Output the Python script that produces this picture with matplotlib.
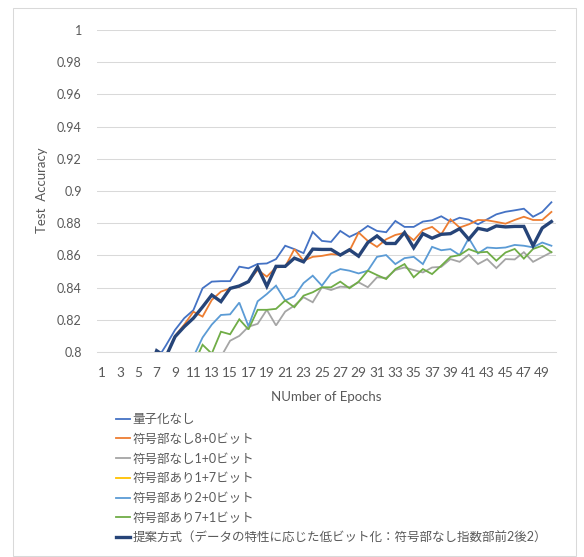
import matplotlib
matplotlib.use("Agg")
import matplotlib.pyplot as plt
from matplotlib.patches import Rectangle
import numpy as np

plt.rcParams["font.family"] = ["Lato", "Noto Sans CJK JP"]

epochs = np.arange(1, 51)

no_quant = [0.42, 0.61, 0.69, 0.73, 0.76, 0.78, 0.795, 0.804, 0.8137, 0.821,
            0.826, 0.8396, 0.8437, 0.844, 0.844, 0.853, 0.852, 0.8547, 0.855, 0.8577,
            0.866, 0.8639, 0.8614, 0.8746, 0.869, 0.8684, 0.8752, 0.8715, 0.8742, 0.8783,
            0.8752, 0.8744, 0.8814, 0.8777, 0.8777, 0.881, 0.8818, 0.8843, 0.881, 0.8834,
            0.8822, 0.8793, 0.8824, 0.8855, 0.8871, 0.888, 0.889, 0.884, 0.887, 0.893]
unsigned_8_0 = [0.40, 0.58, 0.67, 0.72, 0.75, 0.77, 0.785, 0.797, 0.81, 0.817,
                0.825, 0.822, 0.8323, 0.8375, 0.8395, 0.8405, 0.8437, 0.851, 0.8468, 0.8525,
                0.853, 0.8639, 0.8567, 0.8591, 0.8597, 0.8608, 0.8604, 0.8628, 0.8742, 0.869,
                0.8653, 0.87, 0.8727, 0.874, 0.8694, 0.8758, 0.8777, 0.8731, 0.8824, 0.8773,
                0.8793, 0.882, 0.8818, 0.8808, 0.8797, 0.882, 0.884, 0.882, 0.882, 0.887]
unsigned_1_0 = [0.30, 0.45, 0.55, 0.62, 0.67, 0.70, 0.73, 0.75, 0.765, 0.775,
                0.783, 0.789, 0.794, 0.797, 0.807, 0.81, 0.8157, 0.8175, 0.8262, 0.8165,
                0.8251, 0.8288, 0.834, 0.8309, 0.8402, 0.8385, 0.8406, 0.8402, 0.8433, 0.8402,
                0.8464, 0.846, 0.8509, 0.8525, 0.8509, 0.8494, 0.8525, 0.8529, 0.8577, 0.856,
                0.8604, 0.8546, 0.8577, 0.8521, 0.8577, 0.8575, 0.862, 0.856, 0.859, 0.862]
signed_1_7 = [0.101, 0.098, 0.103, 0.099, 0.102, 0.100, 0.097, 0.104, 0.101, 0.099,
              0.102, 0.098, 0.100, 0.103, 0.099, 0.101, 0.097, 0.102, 0.100, 0.098,
              0.103, 0.101, 0.099, 0.100, 0.102, 0.098, 0.101, 0.103, 0.099, 0.100,
              0.102, 0.097, 0.101, 0.100, 0.098, 0.103, 0.099, 0.101, 0.100, 0.102,
              0.098, 0.101, 0.099, 0.103, 0.100, 0.102, 0.098, 0.101, 0.099, 0.100]
signed_2_0 = [0.25, 0.42, 0.55, 0.62, 0.67, 0.71, 0.74, 0.76, 0.775, 0.787,
              0.797, 0.809, 0.817, 0.823, 0.8234, 0.8307, 0.816, 0.8315, 0.836, 0.8412,
              0.832, 0.8346, 0.8428, 0.8474, 0.8412, 0.8488, 0.8515, 0.8505, 0.8488, 0.8505,
              0.8591, 0.8602, 0.8546, 0.8583, 0.8591, 0.8546, 0.8653, 0.8632, 0.8639, 0.8602,
              0.8707, 0.8612, 0.8649, 0.8645, 0.8649, 0.8665, 0.866, 0.865, 0.868, 0.866]
signed_7_1 = [0.20, 0.38, 0.50, 0.59, 0.65, 0.69, 0.72, 0.745, 0.765, 0.78,
              0.792, 0.8045, 0.799, 0.8126, 0.811, 0.8203, 0.814, 0.8262, 0.8262, 0.8268,
              0.832, 0.8278, 0.835, 0.8371, 0.8402, 0.8402, 0.8437, 0.8396, 0.8437, 0.8505,
              0.8478, 0.8453, 0.8515, 0.8546, 0.8464, 0.8515, 0.8484, 0.8536, 0.8591, 0.8602,
              0.8639, 0.8618, 0.8622, 0.8567, 0.8618, 0.864, 0.858, 0.864, 0.866, 0.862]
proposed = [0.35, 0.55, 0.66, 0.72, 0.76, 0.785, 0.8008, 0.797, 0.8095, 0.8157,
            0.821, 0.828, 0.8354, 0.8313, 0.8395, 0.841, 0.8437, 0.8528, 0.8408, 0.8532,
            0.8532, 0.8583, 0.856, 0.8639, 0.8637, 0.8637, 0.8602, 0.8635, 0.8595, 0.868,
            0.8721, 0.8674, 0.8674, 0.8742, 0.8647, 0.8735, 0.8707, 0.8731, 0.8735, 0.8766,
            0.87, 0.8768, 0.8756, 0.8783, 0.8777, 0.878, 0.878, 0.866, 0.877, 0.881]

series = [
    ("量子化なし", no_quant, "#4472C4", 1.3),
    ("符号部なし8+0ビット", unsigned_8_0, "#ED7D31", 1.3),
    ("符号部なし1+0ビット", unsigned_1_0, "#A5A5A5", 1.3),
    ("符号部あり1+7ビット", signed_1_7, "#FFC000", 1.3),
    ("符号部あり2+0ビット", signed_2_0, "#5B9BD5", 1.3),
    ("符号部あり7+1ビット", signed_7_1, "#70AD47", 1.3),
    ("提案方式（データの特性に応じた低ビット化：符号部なし指数部前2後2）", proposed, "#264478", 2.4),
]

W, H = 584, 557
fig = plt.figure(figsize=(W / 100, H / 100), dpi=100)
ax = fig.add_axes([97 / W, 1 - 352 / H, (556 - 97) / W, (352 - 30) / H])

for label, vals, color, lw in series:
    ax.plot(epochs, vals, color=color, lw=lw, label=label, solid_joinstyle="miter")

ax.set_xlim(0.5, 50.5)
ax.set_ylim(0.8, 1.0)
ax.set_yticks(np.arange(0.8, 1.001, 0.02))
ax.set_yticklabels(["0.8", "0.82", "0.84", "0.86", "0.88", "0.9",
                    "0.92", "0.94", "0.96", "0.98", "1"])
ax.set_xticks(epochs[::2])
ax.set_xticklabels([str(e) for e in epochs[::2]])
ax.grid(axis="y", color="#D9D9D9", lw=0.75)
ax.set_axisbelow(True)
for s in ["top", "right", "left"]:
    ax.spines[s].set_visible(False)
ax.spines["bottom"].set_color("#D9D9D9")
ax.spines["bottom"].set_linewidth(0.75)
ax.tick_params(axis="both", length=0, labelcolor="#595959")
ax.tick_params(axis="x", pad=11, labelsize=9.8)
ax.tick_params(axis="y", pad=11, labelsize=9)

fig.text(42 / W, 1 - 190 / H, "Test  Accuracy", rotation=90, ha="center",
         va="center", fontsize=9.5, color="#595959")
fig.text(326 / W, 1 - 397 / H, "NUmber of Epochs", ha="center", va="center",
         fontsize=9.5, color="#595959")

fig.legend(loc="upper left", bbox_to_anchor=(116 / W, 1 - 413 / H), frameon=False,
           fontsize=9, labelcolor="#595959", handlelength=1.1, handletextpad=0.2,
           labelspacing=0.62, borderpad=0, borderaxespad=0)

fig.patches.append(Rectangle((13 / W, 1 - 556 / H), (576 - 13) / W, (556 - 8) / H,
                             transform=fig.transFigure, fill=False,
                             edgecolor="#D9D9D9", lw=0.75))

fig.savefig("out.png", dpi=100)
